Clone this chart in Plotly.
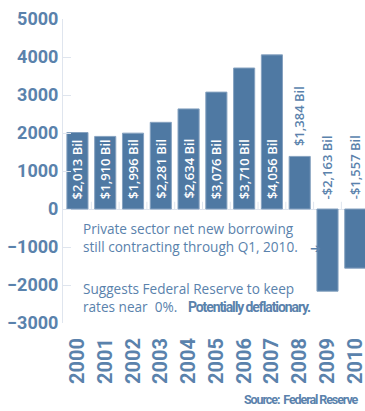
import plotly.graph_objects as go

years = ["2000", "2001", "2002", "2003", "2004", "2005", "2006", "2007", "2008", "2009", "2010"]
borrowing = [2013, 1910, 1996, 2281, 2634, 3076, 3710, 4056, 1384, -2163, -1557]
y_ticks = [5000, 4000, 3000, 2000, 1000, 0, -1000, -2000, -3000]

BAR = "#4f79a3"
TEXT = "#5a82ac"
GRID = "#dfe5ee"


def bil(v):
    s = f"${abs(v):,} Bil"
    return "-" + s if v < 0 else s


fig = go.Figure()
fig.add_trace(go.Bar(
    x=list(range(len(years))),
    y=borrowing,
    marker=dict(color=BAR, line=dict(color="#86a2c0", width=1)),
    hoverinfo="skip",
))

label_font = dict(family="Open Sans", size=13, weight=600)
annotations = []
for i, v in enumerate(borrowing):
    if v >= 1500:
        # tall bars: white label inside, rising from the base
        annotations.append(dict(x=i, y=0, yanchor="bottom", yshift=8,
                                font=dict(label_font, color="white"), text=bil(v)))
    elif v > 0:
        # short bar: label stacked on top of it
        annotations.append(dict(x=i, y=v, yanchor="bottom", yshift=8,
                                font=dict(label_font, color=TEXT), text=bil(v)))
    else:
        # negative bars: label above the zero line
        annotations.append(dict(x=i, y=0, yanchor="bottom", yshift=8,
                                font=dict(label_font, color=TEXT), text=bil(v)))
for a in annotations:
    a.update(xref="x", yref="y", textangle=-90, showarrow=False)

note_font = dict(family="Open Sans", size=13.6, color=TEXT)
squeeze = "font-family:Roboto;font-weight:bold;letter-spacing:-1.1px"
annotations += [
    dict(x=0.058, y=-763, xref="paper", yref="y", xanchor="left", yanchor="middle",
         align="left", showarrow=False, font=note_font,
         text="Private sector net new borrowing<br>still contracting through Q1, 2010."),
    dict(x=0.835, y=-1040, xref="paper", yref="y", xanchor="center", yanchor="middle",
         showarrow=False, text="➔", font=dict(family="DejaVu Sans", size=13, color=TEXT)),
    dict(x=0.058, y=-2316, xref="paper", yref="y", xanchor="left", yanchor="middle",
         align="left", showarrow=False, font=note_font,
         text="Suggests Federal Reserve to keep<br>rates near  0%.   "
              f"<span style='{squeeze};font-size:14px'>Potentially deflationary.</span>"),
    dict(x=1, y=0, xref="paper", yref="paper", xanchor="right", yanchor="bottom",
         yshift=-86, xshift=-4, showarrow=False,
         text=f"<span style='{squeeze};font-size:12.5px'>Source:  Federal Reserve</span>",
         font=dict(family="Roboto", size=12.5, color=TEXT)),
]

# small boundary ticks along the zero line
shapes = [
    dict(type="line", xref="x", yref="y", x0=i + 0.5, x1=i + 0.5, y0=0, y1=190,
         line=dict(color=GRID, width=1))
    for i in range(len(years) - 1)
]

fig.update_layout(
    width=365, height=411,
    margin=dict(l=63, r=0, t=19, b=88, autoexpand=False),
    paper_bgcolor="white", plot_bgcolor="white",
    bargap=0.24,
    showlegend=False,
    annotations=annotations,
    shapes=shapes,
    xaxis=dict(
        type="linear", range=[-0.52, 10.35], automargin=False,
        tickvals=list(range(len(years))), ticktext=years,
        tickangle=-90, showgrid=False, showline=False, zeroline=False,
        ticks="", ticklabelstandoff=10, ticklabelshift=0,
        ticklabeloverflow="allow",
        tickfont=dict(family="Roboto", size=20, color=TEXT, weight=700),
    ),
    yaxis=dict(
        range=[-3000, 5000], tickvals=y_ticks, showgrid=False, automargin=False,
        showline=True, linecolor=GRID, linewidth=1,
        ticks="inside", ticklen=8, tickcolor=GRID,
        zeroline=True, zerolinecolor=GRID, zerolinewidth=1,
        tickfont=dict(family="Roboto", size=18, color=TEXT, weight=700),
    ),
)

fig.write_html("out.html")
